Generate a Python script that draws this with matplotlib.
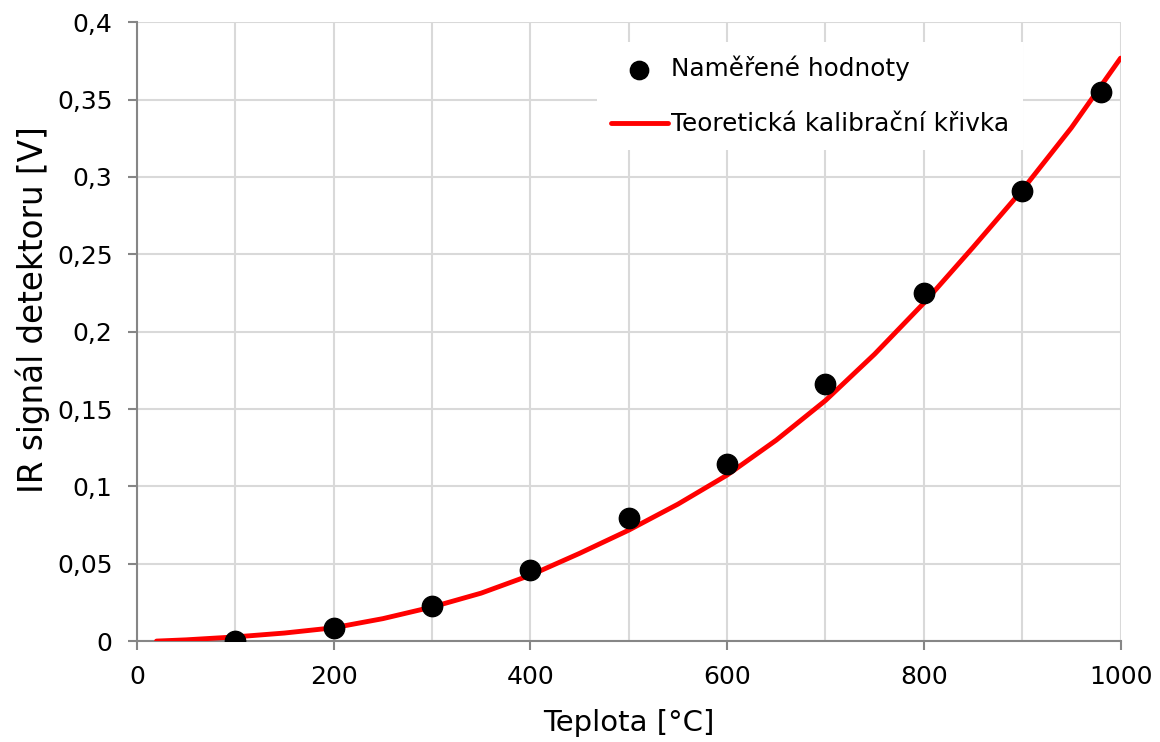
import matplotlib.pyplot as plt

# measured detector signal
teplota = [100, 200, 300, 400, 500, 600, 700, 800, 900, 980]
signal = [0.0, 0.0082, 0.0226, 0.0459, 0.0797, 0.1142, 0.1663, 0.2247, 0.2908, 0.3552]

# theoretical calibration curve
krivka_t = [20, 50, 100, 150, 200, 250, 300, 350, 400, 450, 500, 550, 600,
            650, 700, 750, 800, 850, 900, 950, 1000]
krivka_u = [0.0, 0.0008, 0.0027, 0.0052, 0.0086, 0.0145, 0.022, 0.031, 0.0426,
            0.0567, 0.0717, 0.0885, 0.1073, 0.1299, 0.1555, 0.1855, 0.2185,
            0.2545, 0.2915, 0.3318, 0.3768]

x_ticks = [0, 200, 400, 600, 800, 1000]
y_ticks = [0, 0.05, 0.1, 0.15, 0.2, 0.25, 0.3, 0.35, 0.4]
y_labels = ['0', '0,05', '0,1', '0,15', '0,2', '0,25', '0,3', '0,35', '0,4']

plt.rcParams['font.family'] = ['DejaVu Sans']

fig, ax = plt.subplots(figsize=(11.6, 7.42), dpi=100)
fig.subplots_adjust(left=0.118, right=0.966, top=0.970, bottom=0.136)

ax.plot(krivka_t, krivka_u, color='#ff0000', lw=3.5, solid_capstyle='round',
        solid_joinstyle='round', label='Teoretická kalibrační křivka', zorder=3)
ax.scatter(teplota, signal, s=215, color='black', zorder=4,
           label='Naměřené hodnoty')

ax.set_xlim(0, 1000)
ax.set_ylim(0, 0.4)
ax.set_xticks(x_ticks)
ax.set_xticks([100, 300, 500, 700, 900], minor=True)
ax.set_yticks(y_ticks)
ax.set_yticklabels(y_labels)
ax.grid(True, which='both', color='#d9d9d9', lw=1.5)
ax.set_axisbelow(True)

for side in ['top', 'right']:
    ax.spines[side].set_visible(False)
for side in ['left', 'bottom']:
    ax.spines[side].set_color('#868686')
    ax.spines[side].set_linewidth(1.5)
ax.tick_params(which='major', length=6.5, width=1.5, color='#868686',
               labelsize=18, pad=11)
ax.tick_params(which='minor', length=0)

ax.set_xlabel('Teplota [°C]', fontsize=21, labelpad=14)
ax.set_ylabel('IR signál detektoru [V]', fontsize=23.5)
ax.yaxis.set_label_coords(-0.088, 0.535)

handles, labels = ax.get_legend_handles_labels()
leg = ax.legend(handles[::-1], labels[::-1], loc='upper right',
                bbox_to_anchor=(0.9004, 0.9677), fontsize=17.8, frameon=True,
                framealpha=1, edgecolor='white', fancybox=False,
                handlelength=2.3, handletextpad=0.12, labelspacing=1.25,
                borderpad=0.55, borderaxespad=0, markerscale=0.9)
leg.get_frame().set_linewidth(0)

fig.savefig('out.png', dpi=100)
